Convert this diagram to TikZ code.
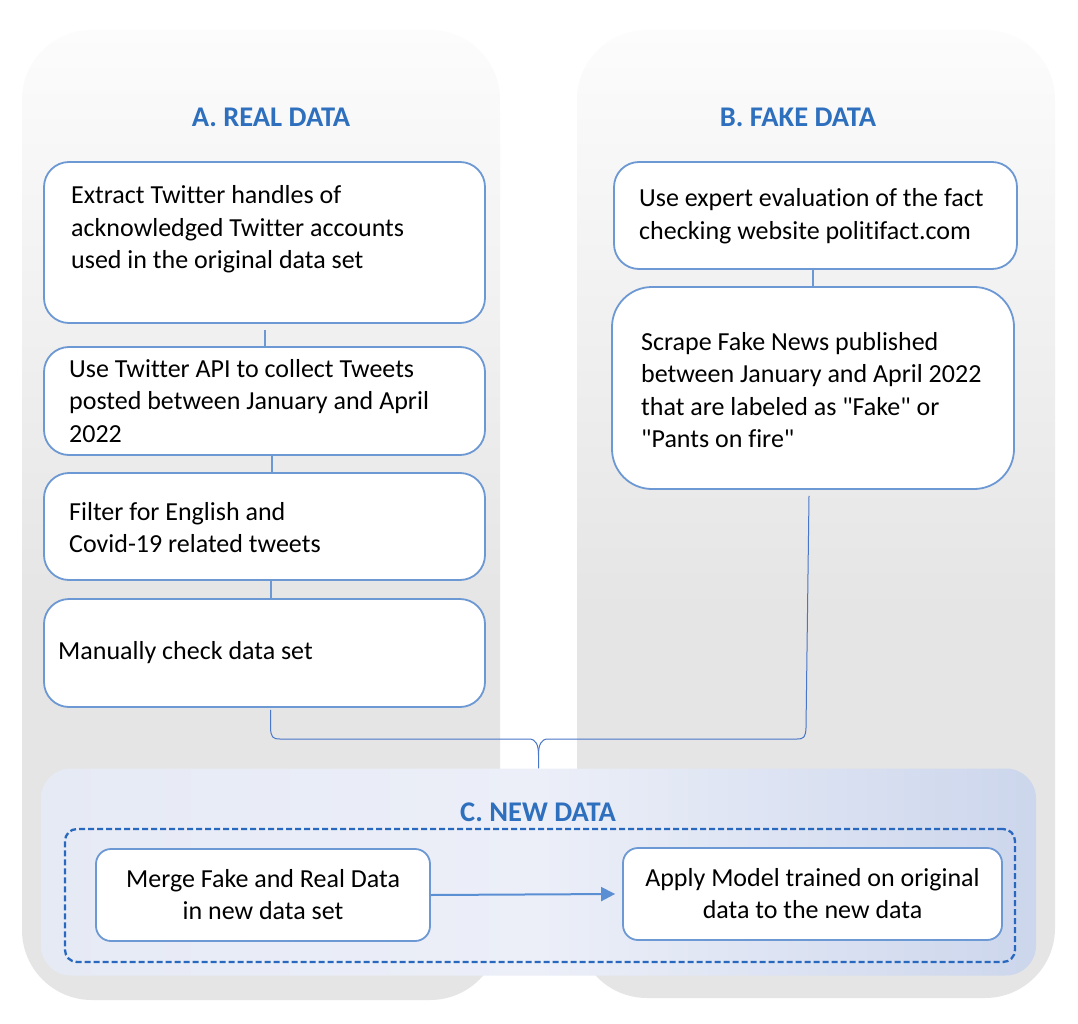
\documentclass[tikz,border=0pt]{standalone}
\usepackage{fontspec}
\setmainfont{Carlito}[Ligatures={NoCommon,TeXOff}]
\usetikzlibrary{arrows.meta}
\definecolor{titleblue}{RGB}{46,112,190}
\definecolor{boxblue}{RGB}{108,152,212}
\definecolor{linkblue}{RGB}{72,118,200}
\definecolor{dashblue}{RGB}{40,104,190}
\definecolor{arrblue}{RGB}{91,143,212}
\definecolor{ptop}{RGB}{252,252,252}
\definecolor{pbot}{RGB}{229,229,229}
\definecolor{cleft}{RGB}{230,234,245}
\definecolor{cmid}{RGB}{236,239,248}
\definecolor{cright}{RGB}{204,214,236}
\pgfdeclareverticalshading{panelshade}{100bp}{color(0bp)=(pbot); color(25bp)=(pbot); color(45bp)=(pbot); color(75bp)=(ptop); color(100bp)=(ptop)}
\pgfdeclarehorizontalshading{cshade}{100bp}{color(0bp)=(cleft); color(25bp)=(cleft); color(50bp)=(cmid); color(75bp)=(cright); color(100bp)=(cright)}
\tikzset{
  panel/.style={shade, shading=panelshade, draw=none, rounded corners=70pt, inner sep=0pt},
  cpanel/.style={shade, shading=cshade, draw=none, rounded corners=30pt, inner sep=0pt},
  stepbox/.style={draw=boxblue, line width=1.8pt, fill=white, rounded corners=25pt, inner sep=0pt},
  cbox/.style={draw=boxblue, line width=1.8pt, fill=white, rounded corners=15pt, inner sep=0pt, align=center, font=\fontsize{26}{32}\selectfont},
  dbox/.style={draw=dashblue, line width=2.3pt, dash pattern=on 6pt off 3pt, rounded corners=12pt, inner sep=0pt},
  txt/.style={inner sep=0pt, align=left, anchor=west, font=\fontsize{26}{32.5}\selectfont},
  ttl/.style={inner sep=0pt, text=titleblue, font=\bfseries\fontsize{28.5}{33}\selectfont},
  conn/.style={draw=boxblue, line width=2pt},
  bracel/.style={draw=linkblue, line width=1pt},
  arr/.style={draw=arrblue, line width=2pt, -{Triangle[length=14pt, width=14pt]}}
}
\begin{document}
\begin{tikzpicture}[x=1pt,y=-1pt]
\fill[white] (0,0) rectangle (1078,1024);
\useasboundingbox (0,0) rectangle (1078,1024);

% panels
\node[panel, minimum width=478pt, minimum height=970pt] (pa) at (261,515) {};
\node[panel, minimum width=478pt, minimum height=968pt] (pb) at (816,514) {};

% titles
\node[ttl] (ta) at (271,117) {A. REAL DATA};
\node[ttl] (tb) at (798,117) {B. FAKE DATA};

% A boxes
\node[stepbox, minimum width=441pt, minimum height=161pt] (a1) at (264.5,242.5) {};
\node[txt] (ta1) at (71,229.5) {Extract Twitter handles of\\acknowledged Twitter accounts\\used in the original data set};
\node[stepbox, minimum width=441pt, minimum height=108pt] (a2) at (264.5,401) {};
\node[txt] (ta2) at (69,401) {Use Twitter API to collect Tweets\\posted between January and April\\2022};
\node[stepbox, minimum width=441pt, minimum height=107pt] (a3) at (264.5,526.5) {};
\node[txt] (ta3) at (69,527.5) {Filter for English and\\Covid-19 related tweets};
\node[stepbox, minimum width=441pt, minimum height=108pt] (a4) at (264.5,653) {};
\node[txt] (ta4) at (58,653) {Manually check data set};

% B boxes
\node[stepbox, minimum width=403pt, minimum height=107pt] (b1) at (815.5,215.5) {};
\node[txt] (tb1) at (639,216) {Use expert evaluation of the fact\\checking website politifact.com};
\node[stepbox, rounded corners=40pt, minimum width=402pt, minimum height=202pt] (b2) at (813,388) {};
\node[txt] (tb2) at (641,390) {Scrape Fake News published\\between January and April 2022\\that are labeled as "Fake" or\\"Pants on fire"};

% short connectors
\draw[conn] ([yshift=-6pt]a1.south) -- (a2.north);
\draw[conn] ([xshift=7.5pt]a2.south) -- ([xshift=7.5pt]a3.north);
\draw[conn] ([xshift=6.5pt]a3.south) -- ([xshift=6.5pt]a4.north);
\draw[conn] ([xshift=-2.5pt]b1.south) -- (b2.north);

% panel C
\node[cpanel, minimum width=995pt, minimum height=207pt] (pc) at (538.5,872) {};
\node[ttl] (tc) at (538,812) {C. NEW DATA};
\node[dbox, minimum width=950pt, minimum height=133pt] (db) at (540,895.5) {};
\node[cbox, minimum width=334pt, minimum height=92pt] (c1) at (263,895) {Merge Fake and Real Data\\in new data set};
\node[cbox, minimum width=379pt, minimum height=92pt] (c2) at (812.5,894) {Apply Model trained on original\\data to the new data};
\draw[arr] (c1.east) -- ([xshift=-7pt]c2.west);

% brace connector
\draw[bracel] ([xshift=6pt,yshift=-2pt]a4.south) -- (270.5,728) .. controls (271,737) and (272.5,739) .. (280,739) -- (529,739) .. controls (536,739) and (538.5,745) .. (538.5,755) -- (pc.north);
\draw[bracel] ([xshift=-4pt,yshift=-6pt]b2.south) -- (806,728) .. controls (805.5,737) and (804,739) .. (797,739) -- (548,739) .. controls (541,739) and (538.5,745) .. (538.5,755);
\end{tikzpicture}
\end{document}
